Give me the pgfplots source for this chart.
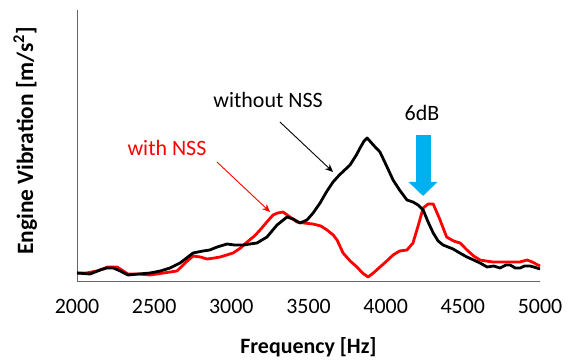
\documentclass[border=0pt]{standalone}
\usepackage{pgfplots}
\pgfplotsset{compat=1.18}
\usepackage{fontspec}
\setmainfont{Carlito}
\usetikzlibrary{arrows.meta}
\definecolor{nssblue}{HTML}{00B0F0}
\begin{document}
\begin{tikzpicture}
\useasboundingbox (-77bp,-80bp) rectangle (497bp,281bp);
\begin{axis}[
  at={(0,0)}, anchor=south west,
  scale only axis, width=463bp, height=271bp,
  xmin=2000, xmax=5000, ymin=0, ymax=271,
  axis x line=bottom, axis y line=left,
  axis line style={-, draw=gray!80!black, line width=0.9bp},
  xtick={2000,2500,...,5000}, ytick=\empty,
  major tick length=0pt,
  /pgf/number format/assume math mode=true,
  /pgf/number format/1000 sep={},
  xticklabel style={font=\fontsize{22}{26}\selectfont, yshift=-15bp},
  xlabel={Frequency [Hz]},
  xlabel style={font=\fontsize{22}{26}\selectfont\bfseries, at={(axis description cs:0.5,0)}, anchor=north, yshift=-53bp},
  ylabel={Engine Vibration [m/s\textsuperscript{2}]},
  ylabel style={font=\fontsize{23.5}{28}\selectfont\bfseries, at={(axis description cs:-0.112,0.517)}, anchor=center, rotate=0},
  clip=false,
]
\addplot[red, line width=2.8bp, line join=round] coordinates {
(2000,8)(2060,8)(2130,10)(2200,14)(2260,14)(2330,7)(2400,7)(2473,6)(2560,8)(2648,10)(2700,18)(2752,25)(2800,24)(2843,22)(2890,23)(2927,24)(2970,26)(3011,28)(3060,33)(3102,39)(3150,45)(3186,51)(3230,59)(3270,66)(3300,68)(3335,69)(3380,64)(3426,59)(3470,58)(3529,57)(3580,55)(3620,51)(3660,46)(3685,41)(3724,28)(3770,20)(3814,14)(3850,8)(3886,4)(3920,8)(3963,14)(4000,19)(4048,26)(4090,30)(4138,31)(4177,38)(4210,55)(4243,73)(4275,77)(4308,77)(4350,62)(4395,44)(4440,40)(4482,38)(4527,31)(4570,25)(4612,21)(4650,20)(4696,19)(4760,19)(4825,19)(4870,19)(4916,21)(4950,19)(4987,16)(5000,15)
};
\addplot[black, line width=2.8bp, line join=round] coordinates {
(2000,8)(2084,7)(2150,11)(2192,13)(2235,13)(2280,10)(2330,6)(2400,7)(2473,8)(2540,10)(2603,13)(2668,18)(2710,23)(2752,28)(2817,30)(2860,31)(2908,34)(2972,37)(3020,36)(3076,36)(3120,37)(3166,38)(3231,44)(3296,56)(3361,64)(3400,62)(3445,58)(3490,61)(3530,68)(3575,78)(3620,90)(3659,99)(3700,106)(3769,116)(3810,126)(3834,133)(3860,140)(3880,143)(3920,136)(3963,129)(4000,117)(4048,101)(4090,91)(4138,81)(4177,79)(4210,76)(4243,71)(4275,59)(4308,48)(4340,40)(4372,36)(4437,32)(4480,28)(4527,24)(4570,21)(4612,18)(4657,14)(4700,15)(4741,13)(4780,16)(4806,16)(4840,13)(4871,13)(4900,15)(4935,15)(4960,14)(5000,12)
};
\node[font=\fontsize{22}{26}\selectfont] at (axis cs:3238,181) {without NSS};
\draw[-{Stealth[length=8bp,width=7bp]}, line width=0.9bp] (axis cs:3315,159) -- (axis cs:3659,109);
\node[font=\fontsize{22}{26}\selectfont, text=red] at (axis cs:2583,133) {with NSS};
\draw[red, -{Stealth[length=8bp,width=7bp]}, line width=0.9bp] (axis cs:2907,119) -- (axis cs:3251,69);
\node[font=\fontsize{22}{26}\selectfont] at (axis cs:4235,168) {6dB};
\draw[nssblue, -{Triangle[width=28bp,length=14bp]}, line width=15bp] (axis cs:4242,146) -- (axis cs:4242,85);
\end{axis}
\end{tikzpicture}
\end{document}
